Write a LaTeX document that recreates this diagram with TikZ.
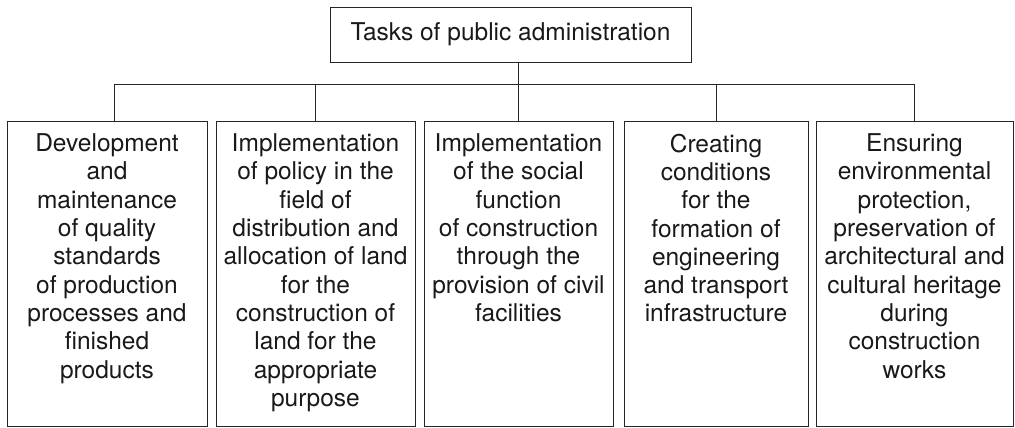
\documentclass[tikz,border=0pt]{standalone}
\usepackage{fontspec}
\setmainfont{TeX Gyre Heros}
\usetikzlibrary{positioning}
\tikzset{
  taskbox/.style={draw=black!85,line width=0.8pt,minimum height=305pt,inner sep=0pt},
  tasktext/.style={align=center,inner sep=0pt,text=black!90,font=\fontsize{24.5}{28.3}\selectfont},
  link/.style={draw=black!85,line width=0.8pt}
}

\begin{document}
\begin{tikzpicture}[x=1pt,y=1pt]
  \useasboundingbox (0,0) rectangle (1015,-428);
  \coordinate (bus) at (0,-84);

  \node[tasktext,draw=black!85,line width=0.8pt,minimum width=361pt,minimum height=55pt] (top) at (510.5,-34.5) {Tasks of public administration};

  \node[taskbox,minimum width=200pt] (b1) at (107,-273.5) {};
  \node[taskbox,minimum width=199pt] (b2) at (315.5,-273.5) {};
  \node[taskbox,minimum width=189pt] (b3) at (518.5,-273.5) {};
  \node[taskbox,minimum width=184pt] (b4) at (716,-273.5) {};
  \node[taskbox,minimum width=197pt] (b5) at (914.5,-273.5) {};

  \node[tasktext,below=13pt of b1.north] (t1) {Development\\and\\maintenance\\of quality\\standards\\of production\\processes and\\finished\\products};
  \node[tasktext,below=13pt of b2.north] (t2) {Implementation\\of policy in the\\field of\\distribution and\\allocation of land\\for the\\construction of\\land for the\\appropriate\\purpose};
  \node[tasktext,below=13pt of b3.north] (t3) {Implementation\\of the social\\function\\of construction\\through the\\provision of civil\\facilities};
  \node[tasktext,below=13pt of b4.north] (t4) {Creating\\conditions\\for the\\formation of\\engineering\\and transport\\infrastructure};
  \node[tasktext,below=13pt of b5.north] (t5) {Ensuring\\environmental\\protection,\\preservation of\\architectural and\\cultural heritage\\during\\construction\\works};

  % connectors
  \coordinate (b1top) at ([xshift=7pt]b1.north);
  \draw[link] (b1top |- bus) -- (b5.north |- bus);
  \draw[link] (b3.north |- top.south) -- (b3.north);
  \draw[link] (b1top |- bus) -- (b1top);
  \draw[link] (b2.north |- bus) -- (b2.north);
  \draw[link] (b4.north |- bus) -- (b4.north);
  \draw[link] (b5.north |- bus) -- (b5.north);
\end{tikzpicture}
\end{document}
